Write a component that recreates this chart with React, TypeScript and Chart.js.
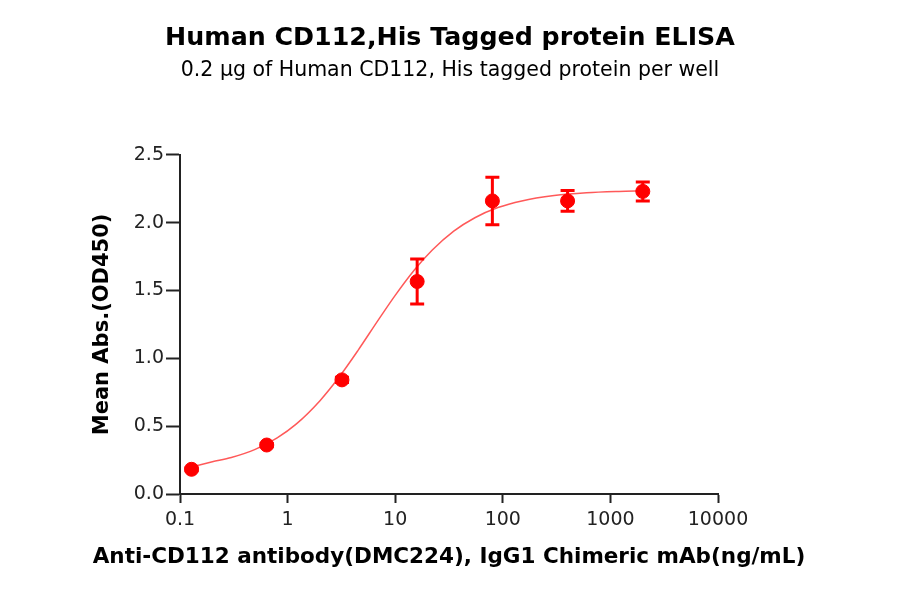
import { useEffect, useRef } from 'react';
import { Chart, registerables } from 'chart.js';

Chart.register(...registerables);

// antibody concentration (ng/mL), 1:5 dilution series
const concentrations = [0.128, 0.64, 3.2, 16, 80, 400, 2000];
const meanAbs = [0.182, 0.361, 0.841, 1.566, 2.16, 2.16, 2.23];
const sdAbs = [0.01, 0.012, 0.02, 0.165, 0.175, 0.077, 0.07];

// fitted curve
const curveX = [0.128, 0.2, 0.3, 0.5, 0.8, 1.2, 2, 3, 4.5, 7, 10, 15, 22, 35, 55, 90, 150, 300, 600, 1200, 2000];
const curveY = [0.2, 0.237, 0.269, 0.329, 0.414, 0.515, 0.688, 0.86, 1.057, 1.285, 1.464, 1.649, 1.796, 1.937, 2.036, 2.111, 2.16, 2.199, 2.22, 2.23, 2.234];

const xTicks = [0.1, 1, 10, 100, 1000, 10000];
const yTicks = [0, 0.5, 1, 1.5, 2, 2.5];

const titleText = 'Human CD112,His Tagged protein ELISA';
const subtitleText = '0.2 \u03bcg of Human CD112, His tagged protein per well';
const xTitle = 'Anti-CD112 antibody(DMC224), IgG1 Chimeric mAb(ng/mL)';
const yTitle = 'Mean Abs.(OD450)';

const RED = '#ff0000';
const FONT = 'DejaVu Sans';

const errorBars = {
    id: 'errorBars',
    afterDatasetsDraw(chart: any) {
        const { ctx, scales } = chart;
        const xs = scales.x;
        const ys = scales.y;
        ctx.save();
        ctx.strokeStyle = RED;
        ctx.lineWidth = 3;
        concentrations.forEach((c, i) => {
            const px = xs.getPixelForValue(c);
            const top = ys.getPixelForValue(meanAbs[i] + sdAbs[i]);
            const bot = ys.getPixelForValue(meanAbs[i] - sdAbs[i]);
            ctx.beginPath();
            ctx.moveTo(px, top);
            ctx.lineTo(px, bot);
            ctx.moveTo(px - 7, top);
            ctx.lineTo(px + 7, top);
            ctx.moveTo(px - 7, bot);
            ctx.lineTo(px + 7, bot);
            ctx.stroke();
        });
        ctx.restore();
    }
};

// the x title is wider than the axis, so chart.js would squeeze it; draw it here instead
const wideXTitle = {
    id: 'wideXTitle',
    afterDraw(chart: any) {
        const { ctx, chartArea } = chart;
        ctx.save();
        ctx.fillStyle = '#000';
        ctx.font = `bold 21.5px "${FONT}"`;
        ctx.textAlign = 'center';
        ctx.textBaseline = 'middle';
        ctx.fillText(xTitle, (chartArea.left + chartArea.right) / 2, 557);
        ctx.restore();
    }
};

const App = () => {
    const canvasRef = useRef<HTMLCanvasElement>(null);

    useEffect(() => {
        if (!canvasRef.current) return;

        const chart = new Chart(canvasRef.current, {
            type: 'line',
            data: {
                datasets: [
                    {
                        label: 'fit',
                        data: curveX.map((x, i) => ({ x, y: curveY[i] })),
                        borderColor: 'rgba(255, 60, 60, 0.85)',
                        borderWidth: 1.5,
                        pointRadius: 0,
                        cubicInterpolationMode: 'monotone',
                        fill: false,
                        order: 2
                    },
                    {
                        label: 'mean',
                        data: concentrations.map((x, i) => ({ x, y: meanAbs[i] })),
                        showLine: false,
                        pointRadius: 7,
                        pointBackgroundColor: RED,
                        pointBorderColor: RED,
                        borderColor: RED,
                        order: 1
                    }
                ]
            },
            options: {
                responsive: true,
                maintainAspectRatio: false,
                animation: false,
                layout: { padding: 0 },
                plugins: {
                    legend: { display: false },
                    tooltip: { enabled: false },
                    title: {
                        display: true,
                        text: titleText,
                        color: '#000',
                        font: { family: FONT, size: 25.3, weight: 'bold', lineHeight: 1.2 },
                        padding: { top: 23.5, bottom: 0 }
                    },
                    subtitle: {
                        display: true,
                        text: subtitleText,
                        color: '#000',
                        font: { family: FONT, size: 20.5, weight: 'normal', lineHeight: 1.2 },
                        padding: { top: 4.3, bottom: 72 }
                    }
                },
                scales: {
                    x: {
                        type: 'logarithmic',
                        min: 0.1,
                        max: 10000,
                        afterBuildTicks: (axis: any) => {
                            axis.ticks = xTicks.map(v => ({ value: v }));
                        },
                        afterFit: (axis: any) => {
                            axis.height = 100;
                        },
                        grid: { display: true, drawOnChartArea: false, tickLength: 9, tickWidth: 2, color: '#222' },
                        border: { display: true, color: '#222', width: 2 },
                        ticks: {
                            color: '#222',
                            padding: 6,
                            maxRotation: 0,
                            autoSkip: false,
                            font: { family: FONT, size: 19 },
                            callback: (v: any) => String(v)
                        },
                        title: { display: false }
                    },
                    y: {
                        type: 'linear',
                        position: 'left',
                        min: 0,
                        max: 2.5,
                        afterBuildTicks: (axis: any) => {
                            axis.ticks = yTicks.map(v => ({ value: v }));
                        },
                        afterFit: (axis: any) => {
                            axis.width = 180;
                        },
                        grid: { display: true, drawOnChartArea: false, tickLength: 14, tickWidth: 2, color: '#222' },
                        border: { display: true, color: '#222', width: 2 },
                        ticks: {
                            color: '#222',
                            padding: 2,
                            font: { family: FONT, size: 19 },
                            callback: (v: any) => Number(v).toFixed(1)
                        },
                        title: {
                            display: true,
                            text: yTitle,
                            color: '#000',
                            font: { family: FONT, size: 21, weight: 'bold', lineHeight: 1.2 },
                            padding: { top: 90.4, bottom: 0 }
                        }
                    },
                    yRight: {
                        type: 'linear',
                        position: 'right',
                        display: true,
                        afterFit: (axis: any) => {
                            axis.width = 182;
                        },
                        grid: { display: false },
                        border: { display: false },
                        ticks: { display: false }
                    }
                }
            },
            plugins: [errorBars, wideXTitle]
        });

        return () => {
            chart.destroy();
        };
    }, []);

    return (
        <div style={{ position: 'absolute', left: 0, top: 0, width: 900, height: 594 }}>
            <canvas ref={canvasRef}></canvas>
        </div>
    );
};

export default App;
